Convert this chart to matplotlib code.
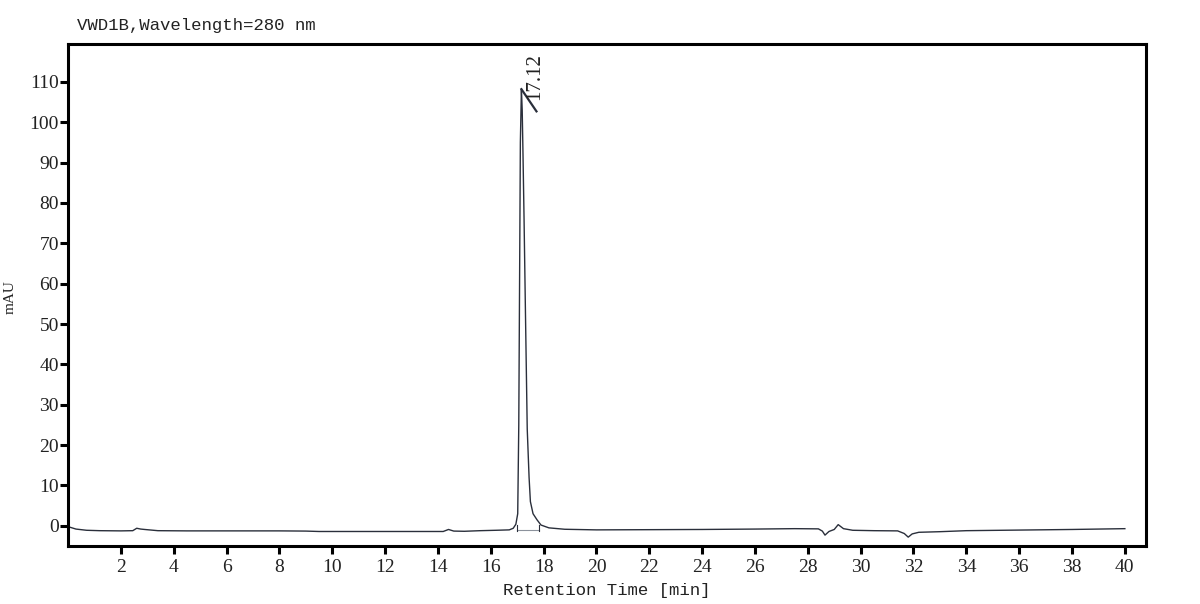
import matplotlib.pyplot as plt
import numpy as np

# chromatogram trace (min, mAU)
times = [0.0, 0.3, 0.7, 1.2, 2.0, 2.45, 2.6, 2.75, 2.9, 3.4, 4.5, 6.0, 8.0, 9.0,
         9.5, 11.0, 13.0, 14.2, 14.4, 14.6, 15.0, 15.6, 16.2, 16.7, 16.85,
         16.95, 17.02, 17.06, 17.09, 17.12, 17.16, 17.19, 17.22, 17.26, 17.31,
         17.38, 17.45, 17.5, 17.6, 17.75, 17.9, 18.2, 18.8, 20.0, 22.0, 24.0,
         26.0, 27.5, 28.4, 28.55, 28.65, 28.8, 29.0, 29.15, 29.35, 29.7, 30.5,
         31.4, 31.65, 31.8, 31.95, 32.2, 33.0, 34.0, 36.0, 38.0, 40.0]
signal = [-0.2, -0.8, -1.1, -1.2, -1.25, -1.2, -0.6, -0.8, -0.9, -1.2, -1.25,
          -1.25, -1.25, -1.3, -1.4, -1.4, -1.4, -1.4, -0.9, -1.3, -1.35, -1.2,
          -1.1, -1.0, -0.6, 0.4, 3.0, 25.0, 60.0, 95.0, 108.2, 103.0, 92.0,
          76.0, 54.0, 24.0, 12.0, 6.0, 3.0, 1.5, 0.2, -0.5, -0.85, -1.0, -0.95,
          -0.9, -0.8, -0.7, -0.75, -1.3, -2.3, -1.4, -0.9, 0.3, -0.7, -1.1,
          -1.2, -1.25, -1.9, -2.8, -2.0, -1.6, -1.45, -1.2, -1.05, -0.9, -0.7]

peak_rt = 17.12
peak_label = '17.12'
base_start, base_end, base_level = 17.0, 17.84, -0.95

x_ticks = np.arange(2, 41, 2)
y_ticks = np.arange(0, 111, 10)

serif = 'Liberation Serif'
mono = 'Liberation Mono'
ink = '#2a2f3b'

fig = plt.figure(figsize=(12, 6.04), dpi=100)
ax = fig.add_axes([0.0567, 0.096, 0.8983, 0.8312])

ax.plot(times, signal, color=ink, lw=1.0)

# integration baseline with start/end marks
ax.plot([base_start, base_end], [base_level, base_level], color='#8c929c', lw=0.8)
ax.plot([base_start, base_start], [base_level - 0.4, base_level + 1.2], color=ink, lw=0.8)
ax.plot([base_end, base_end], [base_level - 0.4, base_level + 1.2], color=ink, lw=0.8)

# apex marker and retention time label
apex = max(signal)
ax.plot([17.16, 17.73], [apex, apex - 5.5], color=ink, lw=1.6)
ax.text(17.66, apex - 2.8, peak_label, rotation=90, ha='center', va='bottom',
        fontsize=15, family=serif, color='#222222')

ax.set_xlim(0, 40.8)
ax.set_ylim(-5, 119.4)
ax.set_xticks(x_ticks)
ax.set_yticks(y_ticks)
ax.tick_params(axis='both', direction='out', length=5.5, width=2.2, color='black',
               labelsize=14)
ax.tick_params(axis='x', pad=4)
ax.tick_params(axis='y', pad=1)
for lbl in ax.get_xticklabels() + ax.get_yticklabels():
    lbl.set_family(serif)
    lbl.set_color('#222222')
for s in ax.spines.values():
    s.set_linewidth(2.2)

ax.set_xlabel('Retention Time [min]', family=mono, fontsize=12.5, color='#222222',
              labelpad=5)
fig.text(0.0083, 0.508, 'mAU', rotation=90, ha='center', va='center',
         family=serif, fontsize=11, color='#222222')
fig.text(0.064, 0.957, 'VWD1B,Wavelength=280 nm', ha='left', va='center',
         family=mono, fontsize=12.5, color='#222222')

fig.savefig('out.png', dpi=100)
